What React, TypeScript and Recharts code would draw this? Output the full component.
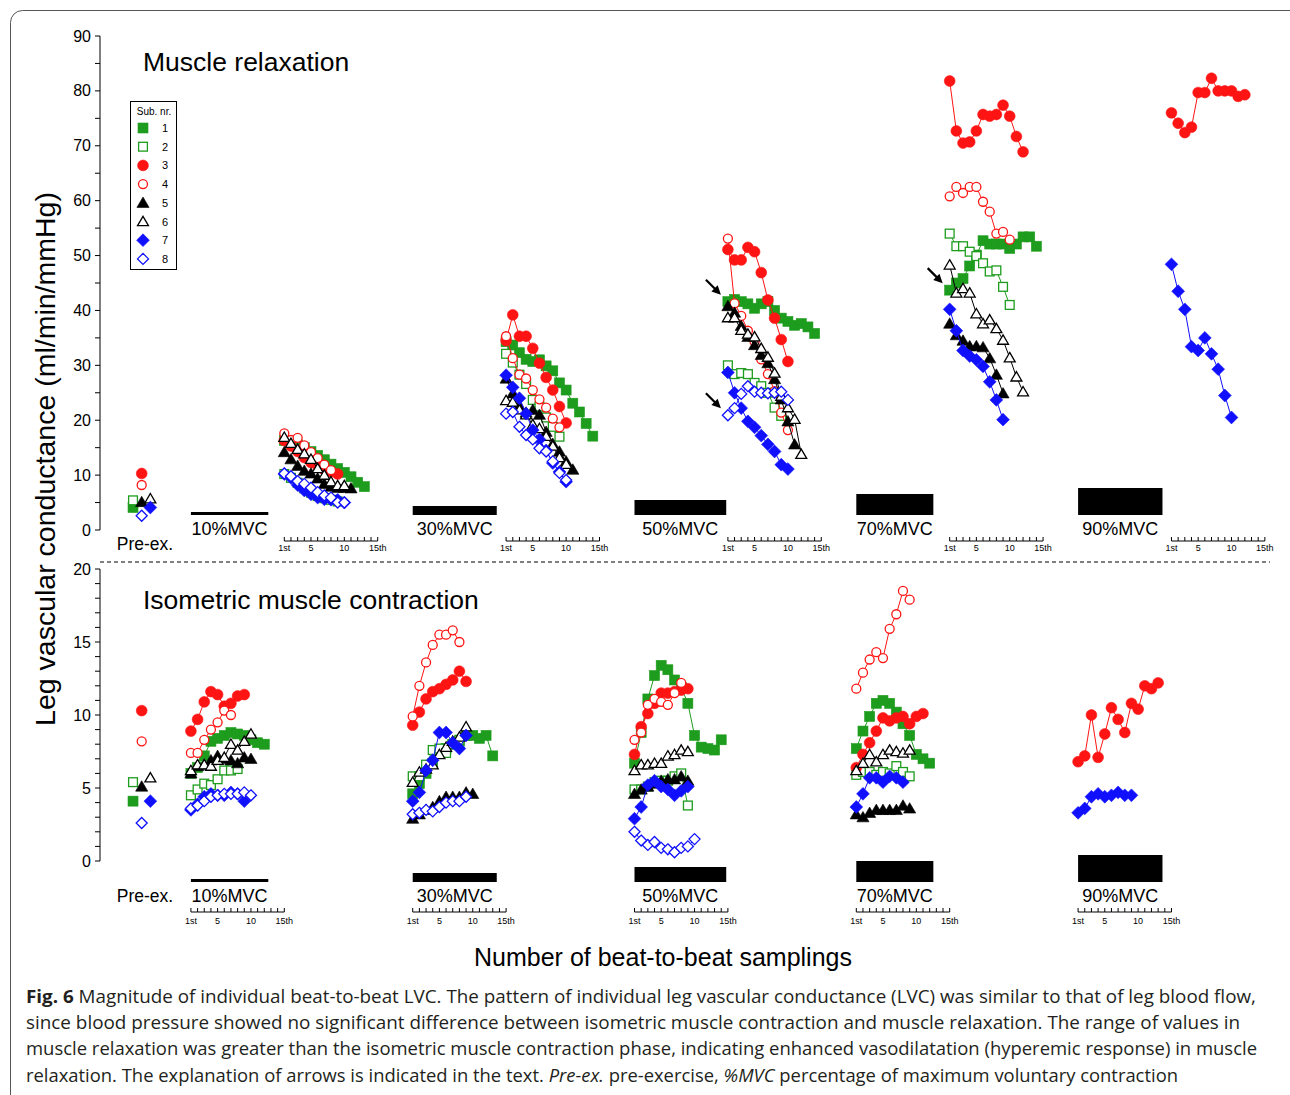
import React from "react";
import { ReferenceArea, ReferenceDot, Scatter, ScatterChart, XAxis, YAxis } from "recharts";

// Leg vascular conductance (ml/min/mmHg), one array per subject 1..8, beats 1st..nth
const PRE_EX = [4.1, 5.4, 10.3, 8.2, 5.1, 5.7, 4.1, 2.6];

const MVC = [10, 30, 50, 70, 90];
// length of the contraction bar, in beats
const BAR_BEATS = [11.6, 12.6, 13.75, 11.55, 12.65];

// muscle relaxation
const REL_10 = [
  [16.3, 16.0, 15.5, 15.0, 14.3, 13.6, 12.8, 12.0, 11.2, 10.5, 9.7, 8.7, 7.9],
  [10.2, 9.5, 8.6, 7.6, 6.8, 6.2, 5.8, 5.5, 5.2],
  [16.3, 15.3, 14.3, 13.2, 12.3, 11.7, 11.0, 10.6, 10.2],
  [17.6, 16.4, 16.8, 15.4, 14.2, 13.1, 11.9, 10.9],
  [14.2, 12.9, 11.7, 10.8, 10.3, 9.4, 8.4, 7.9, 7.7, 7.7, 7.6],
  [16.9, 15.8, 14.7, 13.9, 12.9, 11.2, 10.0, 8.8, 8.1, 8.1],
  [10.2, 9.5, 8.2, 7.2, 6.5, 5.9, 5.6, 5.5, 5.5, 5.0],
  [10.3, 9.8, 8.9, 8.4, 7.7, 6.9, 6.3, 5.9, 5.0, 5.0],
];
const REL_30 = [
  [34.3, 33.7, 32.3, 31.1, 30.7, 31.0, 29.9, 29.0, 26.8, 25.5, 23.1, 21.5, 19.4, 17.1],
  [32.1, 30.5, 28.3, 26.6, 23.7, 22.5, 20.5, 18.8, 17.0],
  [34.5, 39.2, 35.3, 35.3, 33.1, 30.4, 27.8, 25.5, 22.5, 19.5],
  [35.3, 31.3, 28.3, 27.6, 25.5, 23.8, 22.3, 20.3, 18.7],
  [27.6, 24.9, 22.6, 21.4, 21.9, 21.0, 17.9, 15.7, 14.3, 12.5, 11.0],
  [23.6, 23.3, 21.9, 21.0, 19.2, 18.5, 17.1, 15.3, 13.2, 12.0],
  [28.2, 26.0, 24.0, 21.2, 18.2, 16.5, 14.5, 12.2, 10.6, 8.8],
  [21.2, 21.5, 18.8, 17.3, 16.5, 14.9, 14.3, 12.5, 10.4, 9.1],
];
const REL_50 = [
  [41.6, 42.0, 41.6, 41.2, 40.4, 41.2, 41.6, 40.0, 38.6, 38.0, 37.3, 37.6, 37.0, 35.8],
  [30.0, 28.4, 28.6, 28.4, 26.8, 26.2, 25.0, 22.3, 20.8],
  [51.1, 49.2, 49.2, 51.5, 50.7, 46.9, 41.9, 38.6, 34.7, 30.7],
  [53.1, 41.3, 39.0, 36.3, 34.3, 31.1, 28.4, 25.3, 21.4, 18.2],
  [40.8, 39.6, 37.2, 35.2, 33.7, 31.9, 30.4, 27.5, 23.8, 19.8, 15.6],
  [38.7, 38.7, 36.4, 35.7, 35.2, 33.1, 31.5, 28.6, 24.4, 22.3, 20.2, 13.8],
  [28.7, 25.0, 22.2, 19.8, 18.7, 17.2, 15.6, 14.3, 11.9, 11.1],
  [20.9, 22.2, 24.8, 26.2, 25.2, 25.0, 24.9, 25.0, 25.2, 23.7],
];
const REL_70 = [
  [43.7, 45.0, 45.8, 48.1, 50.1, 52.7, 52.1, 52.1, 52.1, 51.3, 52.1, 53.4, 53.4, 51.7],
  [54.0, 51.7, 51.7, 50.7, 49.9, 48.6, 47.1, 47.3, 44.3, 41.0],
  [81.8, 72.7, 70.5, 70.7, 72.7, 75.7, 75.4, 75.7, 77.4, 75.4, 71.7, 68.9],
  [60.8, 62.5, 61.4, 62.5, 62.5, 59.8, 58.0, 54.0, 54.3, 52.9],
  [37.6, 35.5, 34.5, 33.5, 33.5, 33.3, 31.3, 28.3, 24.9],
  [48.3, 43.2, 44.0, 43.2, 39.4, 37.6, 38.3, 36.7, 34.6, 31.4, 27.9, 25.2],
  [40.2, 36.3, 32.7, 31.7, 31.0, 29.8, 27.0, 23.7, 20.1],
  [],
];
const REL_90 = [
  [],
  [],
  [76.0, 74.1, 72.4, 73.4, 79.7, 79.7, 82.3, 80.0, 80.0, 80.0, 79.0, 79.3],
  [],
  [],
  [],
  [48.4, 43.5, 40.2, 33.4, 32.7, 35.0, 32.1, 29.3, 24.5, 20.5],
  [],
];

// isometric muscle contraction
const CON_10 = [
  [6.0, 6.4, 7.2, 8.2, 8.4, 8.6, 8.8, 8.7, 8.6, 8.3, 8.1, 8.0],
  [4.5, 4.9, 5.3, 5.2, 5.6, 6.2, 6.2, 6.3],
  [8.9, 9.7, 10.9, 11.6, 11.4, 10.6, 10.8, 11.3, 11.4],
  [7.4, 7.4, 8.3, 9.0, 9.5, 10.3, 10.0],
  [6.0, 6.5, 6.6, 6.9, 7.2, 7.0, 6.9, 6.7, 7.1, 7.0],
  [6.2, 6.6, 6.6, 6.5, 6.9, 7.1, 8.0, 7.6, 8.2, 8.7],
  [3.5, 3.9, 4.4, 4.6, 4.5, 4.5, 4.7, 4.6, 4.1],
  [3.6, 3.8, 4.1, 4.4, 4.5, 4.6, 4.6, 4.6, 4.7, 4.5],
];
const CON_30 = [
  [4.6, 5.3, 6.0, 6.7, 7.4, 7.7, 8.0, 8.2, 8.6, 8.6, 8.4, 8.6, 7.2],
  [5.8, 5.8, 6.6, 7.6, 7.7, 7.4, 8.0, 8.3],
  [9.3, 10.2, 11.1, 11.6, 11.8, 12.1, 12.4, 13.0, 12.3],
  [9.9, 12.0, 13.6, 14.8, 15.5, 15.5, 15.8, 15.0],
  [2.9, 3.2, 3.5, 3.7, 4.1, 4.4, 4.4, 4.4, 4.7, 4.6],
  [5.4, 6.1, 6.3, 6.6, 7.3, 7.8, 8.2, 8.5, 9.2],
  [4.1, 4.7, 6.2, 6.9, 8.8, 8.8, 8.1, 7.7, 8.6],
  [3.2, 3.3, 3.5, 3.4, 3.7, 4.0, 4.1, 4.1, 4.4],
];
const CON_50 = [
  [6.7, 8.8, 11.1, 12.7, 13.4, 13.1, 12.4, 11.9, 10.8, 8.6, 7.8, 7.7, 7.6, 8.3],
  [4.9, 4.9, 5.1, 5.4, 5.5, 5.5, 5.8, 6.0, 3.8],
  [7.3, 9.2, 10.1, 10.8, 11.5, 11.5, 11.6, 11.7, 11.8],
  [8.3, 8.8, 10.7, 11.1, 10.9, 10.7, 11.5, 12.2],
  [4.6, 4.9, 5.1, 5.3, 5.5, 5.6, 5.6, 5.8, 5.5],
  [6.2, 6.6, 6.6, 6.7, 6.7, 7.2, 7.3, 7.6, 7.5],
  [2.9, 3.7, 5.2, 5.5, 5.1, 4.9, 4.5, 4.8, 5.1],
  [2.0, 1.4, 1.1, 1.3, 0.9, 0.8, 0.6, 0.9, 1.0, 1.5],
];
const CON_70 = [
  [7.7, 8.9, 9.9, 10.8, 11.0, 10.8, 10.2, 9.4, 8.6, 7.3, 7.0, 6.7],
  [5.9, 6.1, 6.1, 5.9, 6.1, 6.0, 6.5, 6.1, 5.8],
  [6.4, 7.3, 8.1, 8.9, 9.8, 9.6, 9.8, 9.9, 9.4, 9.9, 10.1],
  [11.8, 12.9, 13.8, 14.3, 13.9, 15.9, 16.9, 18.5, 17.9],
  [3.2, 3.0, 3.3, 3.5, 3.5, 3.5, 3.5, 3.8, 3.6],
  [6.2, 6.7, 7.3, 6.8, 7.3, 7.6, 7.5, 7.4, 7.6],
  [3.7, 4.6, 5.7, 5.7, 5.4, 5.8, 5.7, 5.4],
  [],
];
const CON_90 = [
  [],
  [],
  [6.8, 7.2, 10.0, 7.1, 8.7, 10.5, 9.7, 8.8, 10.8, 10.4, 12.0, 11.8, 12.2],
  [],
  [],
  [],
  [3.3, 3.6, 4.4, 4.6, 4.4, 4.5, 4.7, 4.5, 4.5],
  [],
];

const FONT = '"Liberation Sans", Arial, Helvetica, sans-serif';
const GREEN = "#1d9c1d";
const RED = "#ff1414";
const BLUE = "#1010ff";

const SUBJECTS: any[] = [
  { kind: "square", filled: true, color: GREEN },
  { kind: "square", filled: false, color: GREEN },
  { kind: "circle", filled: true, color: RED },
  { kind: "circle", filled: false, color: RED },
  { kind: "triangle", filled: true, color: "#000" },
  { kind: "triangle", filled: false, color: "#000" },
  { kind: "diamond", filled: true, color: BLUE },
  { kind: "diamond", filled: false, color: BLUE },
];

// x axis is counted in beats; every %MVC block sits GROUP_GAP beats further right
const X_MAX = 175.4;
const BEAT_PX = 1170 / X_MAX;
const GROUP_GAP = 33.25;
const REL_FIRST = 27.63;
const CON_FIRST = REL_FIRST - 14;
const PRE_X = 6.25;
const PRE_JITTER = [-1.3, -1.3, 0, 0, 0, 1.3, 1.3, 0];

function Marker({ cx, cy, sub }: any) {
  const { kind, filled, color } = SUBJECTS[sub];
  const fill = filled ? color : "#fff";
  const sw = filled ? 0.6 : 1.3;
  if (cx == null || cy == null) return null;
  if (kind === "square") {
    const h = filled ? 5 : 4.4;
    return <rect x={cx - h} y={cy - h} width={2 * h} height={2 * h} fill={fill} stroke={color} strokeWidth={sw} />;
  }
  if (kind === "circle") {
    return <circle cx={cx} cy={cy} r={filled ? 5.4 : 4.5} fill={fill} stroke={color} strokeWidth={sw} />;
  }
  if (kind === "triangle") {
    const h = filled ? 5.8 : 5.2;
    const pts = `${cx},${cy - h} ${cx + h * 1.05},${cy + h * 0.8} ${cx - h * 1.05},${cy + h * 0.8}`;
    return <polygon points={pts} fill={fill} stroke={color} strokeWidth={sw} strokeLinejoin="miter" />;
  }
  const h = filled ? 6.4 : 5.5;
  const pts = `${cx},${cy - h} ${cx + h},${cy} ${cx},${cy + h} ${cx - h},${cy}`;
  return <polygon points={pts} fill={fill} stroke={color} strokeWidth={sw} />;
}

function Arrow({ cx, cy }: any) {
  const tx = cx - 7;
  const ty = cy - 7;
  return (
    <g>
      <line x1={cx - 22} y1={cy - 22} x2={tx - 3} y2={ty - 3} stroke="#000" strokeWidth={2.2} />
      <polygon points={`${tx},${ty} ${tx - 9.5},${ty - 3.2} ${tx - 3.2},${ty - 9.5}`} fill="#000" />
    </g>
  );
}

function YTick({ x, y, payload, step }: any) {
  if (payload.value % step !== 0) return null;
  return (
    <text x={x} y={y} textAnchor="end" dominantBaseline="central" fontSize={16} fontFamily={FONT} fill="#000">
      {payload.value}
    </text>
  );
}

const BEAT_NAMES: Record<number, string> = { 1: "1st", 5: "5", 10: "10", 15: "15th" };

function SubAxisTick({ x, y, payload, first, base, labelDy }: any) {
  const rel = payload.value - first;
  const g = Math.floor((rel + 0.5) / GROUP_GAP);
  const beat = Math.round(rel - g * GROUP_GAP) + 1;
  const yb = y + base;
  return (
    <g>
      <line x1={x} y1={yb} x2={x} y2={yb - 4} stroke="#000" strokeWidth={1} />
      {beat < 15 && <line x1={x} y1={yb} x2={x + BEAT_PX} y2={yb} stroke="#000" strokeWidth={1} />}
      {BEAT_NAMES[beat] && (
        <text x={x} y={y + labelDy} textAnchor="middle" dominantBaseline="central" fontSize={9} fontFamily={FONT} fill="#000">
          {BEAT_NAMES[beat]}
        </text>
      )}
    </g>
  );
}

function range(a: number, b: number, s: number) {
  const out: number[] = [];
  for (let v = a; v <= b + 1e-9; v += s) out.push(Math.round(v * 1000) / 1000);
  return out;
}

const PANELS: any[] = [
  {
    key: "relaxation",
    top: 0,
    height: 570,
    marginTop: 36,
    marginBottom: 10,
    xAxisH: 30,
    yMax: 90,
    yStep: 5,
    labelStep: 10,
    first: REL_FIRST,
    groups: [REL_10, REL_30, REL_50, REL_70, REL_90],
    barBasePx: 15,
    subBase: 11,
    subLabelDy: 18,
    mvcLabelGap: 13.5,
    arrows: [
      { g: 2, sub: 0 },
      { g: 2, sub: 7 },
      { g: 3, sub: 0 },
    ],
  },
  {
    key: "contraction",
    top: 540,
    height: 400,
    marginTop: 29,
    marginBottom: 19,
    xAxisH: 60,
    yMax: 20,
    yStep: 1,
    labelStep: 5,
    first: CON_FIRST,
    groups: [CON_10, CON_30, CON_50, CON_70, CON_90],
    barBasePx: -21,
    subBase: 51,
    subLabelDy: 60,
    mvcLabelGap: 14,
    arrows: [],
  },
];

function Panel({ p }: any) {
  const plotH = p.height - p.marginTop - p.marginBottom - p.xAxisH;
  const unitPx = plotH / p.yMax;
  const barBase = p.barBasePx / unitPx;
  const ticks: number[] = [];
  MVC.forEach((_, g) => {
    for (let b = 0; b < 15; b++) ticks.push(p.first + g * GROUP_GAP + b);
  });

  const series: any[] = [];
  PRE_EX.forEach((v, s) => {
    series.push({ id: `pre-${s}`, sub: s, points: [{ x: PRE_X + PRE_JITTER[s], y: v }] });
  });
  p.groups.forEach((group: number[][], g: number) => {
    group.forEach((vals, s) => {
      if (!vals.length) return;
      series.push({
        id: `g${g}-${s}`,
        sub: s,
        points: vals.map((v, i) => ({ x: p.first + g * GROUP_GAP + i, y: v })),
      });
    });
  });

  return (
    <div style={{ position: "absolute", left: 0, top: p.top }}>
      <ScatterChart width={1290} height={p.height} margin={{ top: p.marginTop, right: 20, bottom: p.marginBottom, left: 60 }}>
        <XAxis
          type="number"
          dataKey="x"
          domain={[0, X_MAX]}
          ticks={ticks}
          interval={0}
          axisLine={false}
          tickLine={false}
          tickSize={0}
          tickMargin={0}
          height={p.xAxisH}
          tick={<SubAxisTick first={p.first} base={p.subBase} labelDy={p.subLabelDy} />}
        />
        <YAxis
          type="number"
          dataKey="y"
          domain={[0, p.yMax]}
          ticks={range(0, p.yMax, p.yStep)}
          interval={0}
          width={40}
          tickSize={5}
          tickMargin={4}
          axisLine={{ stroke: "#000", strokeWidth: 1 }}
          tickLine={{ stroke: "#000", strokeWidth: 1 }}
          tick={<YTick step={p.labelStep} />}
        />
        {MVC.map((m, g) => {
          const x1 = CON_FIRST + g * GROUP_GAP;
          return (
            <ReferenceArea
              key={`bar-${m}`}
              x1={x1}
              x2={x1 + BAR_BEATS[g]}
              y1={barBase}
              y2={barBase + (m * 0.3) / unitPx}
              fill="#000"
              fillOpacity={1}
              stroke="none"
              ifOverflow="visible"
              label={(lp: any) => {
                const vb = lp.viewBox || {};
                return (
                  <text
                    x={vb.x + vb.width / 2}
                    y={vb.y + vb.height + p.mvcLabelGap}
                    textAnchor="middle"
                    dominantBaseline="central"
                    fontSize={18}
                    fontFamily={FONT}
                    fill="#000"
                  >
                    {`${m}%MVC`}
                  </text>
                );
              }}
            />
          );
        })}
        {series.map((s) => (
          <Scatter
            key={s.id}
            data={s.points}
            isAnimationActive={false}
            line={s.points.length > 1 ? { stroke: SUBJECTS[s.sub].color, strokeWidth: 1 } : false}
            shape={(sp: any) => <Marker cx={sp.cx} cy={sp.cy} sub={s.sub} />}
          />
        ))}
        {p.arrows.map((a: any) => (
          <ReferenceDot
            key={`arrow-${a.g}-${a.sub}`}
            x={p.first + a.g * GROUP_GAP}
            y={p.groups[a.g][a.sub][0]}
            ifOverflow="visible"
            shape={(dp: any) => <Arrow cx={dp.cx} cy={dp.cy} />}
          />
        ))}
      </ScatterChart>
    </div>
  );
}

function LegendBox() {
  return (
    <svg width={48} height={170} style={{ position: "absolute", left: 130, top: 101 }}>
      <rect x={0.5} y={0.5} width={46} height={168} fill="#fff" stroke="#000" strokeWidth={1} />
      <text x={24} y={10} textAnchor="middle" dominantBaseline="central" fontSize={10} fontFamily={FONT}>
        Sub. nr.
      </text>
      {SUBJECTS.map((_, i) => (
        <g key={i}>
          <Marker cx={13} cy={27 + i * 18.7} sub={i} />
          <text x={35} y={27 + i * 18.7} textAnchor="middle" dominantBaseline="central" fontSize={11} fontFamily={FONT}>
            {i + 1}
          </text>
        </g>
      ))}
    </svg>
  );
}

const CAPTION_FONT = '"Open Sans", "Noto Sans", sans-serif';

export default function App() {
  return (
    <div style={{ position: "relative", width: 1290, height: 1095, overflow: "hidden", background: "#fff", fontFamily: FONT }}>
      <style>{"body{margin:0}"}</style>
      <svg width={1290} height={1095} style={{ position: "absolute", left: 0, top: 0 }}>
        <rect x={10.5} y={10.5} width={1300} height={1110} rx={12} fill="none" stroke="#555" strokeWidth={1} />
        <line x1={100} y1={562} x2={1270} y2={562} stroke="#000" strokeWidth={1} strokeDasharray="4 3" />
        <text x={143} y={62} dominantBaseline="central" fontSize={26.5} fontFamily={FONT}>
          Muscle relaxation
        </text>
        <text x={143} y={600} dominantBaseline="central" fontSize={26.5} fontFamily={FONT}>
          Isometric muscle contraction
        </text>
        <text
          x={45}
          y={459}
          transform="rotate(-90 45 459)"
          textAnchor="middle"
          dominantBaseline="central"
          fontSize={28.5}
          fontFamily={FONT}
        >
          Leg vascular conductance (ml/min/mmHg)
        </text>
        <text x={145} y={544} textAnchor="middle" dominantBaseline="central" fontSize={17.5} fontFamily={FONT}>
          Pre-ex.
        </text>
        <text x={145} y={896} textAnchor="middle" dominantBaseline="central" fontSize={17.5} fontFamily={FONT}>
          Pre-ex.
        </text>
        <text x={663} y={957} textAnchor="middle" dominantBaseline="central" fontSize={25} fontFamily={FONT}>
          Number of beat-to-beat samplings
        </text>
        <g fontFamily={CAPTION_FONT} fontSize={17.5} fill="#231f20">
          <text x={26} y={1003} textLength={1230} lengthAdjust="spacingAndGlyphs">
            <tspan fontWeight={700}>Fig. 6</tspan> Magnitude of individual beat-to-beat LVC. The pattern of individual leg vascular
            conductance (LVC) was similar to that of leg blood flow,
          </text>
          <text x={26} y={1029} textLength={1214} lengthAdjust="spacingAndGlyphs">
            since blood pressure showed no significant difference between isometric muscle contraction and muscle relaxation. The
            range of values in
          </text>
          <text x={26} y={1055} textLength={1231} lengthAdjust="spacingAndGlyphs">
            muscle relaxation was greater than the isometric muscle contraction phase, indicating enhanced vasodilatation (hyperemic
            response) in muscle
          </text>
          <text x={26} y={1082} textLength={1152} lengthAdjust="spacingAndGlyphs">
            relaxation. The explanation of arrows is indicated in the text. <tspan fontStyle="italic">Pre-ex.</tspan> pre-exercise,{" "}
            <tspan fontStyle="italic">%MVC</tspan> percentage of maximum voluntary contraction
          </text>
        </g>
      </svg>
      {PANELS.map((p) => (
        <Panel key={p.key} p={p} />
      ))}
      <LegendBox />
    </div>
  );
}
